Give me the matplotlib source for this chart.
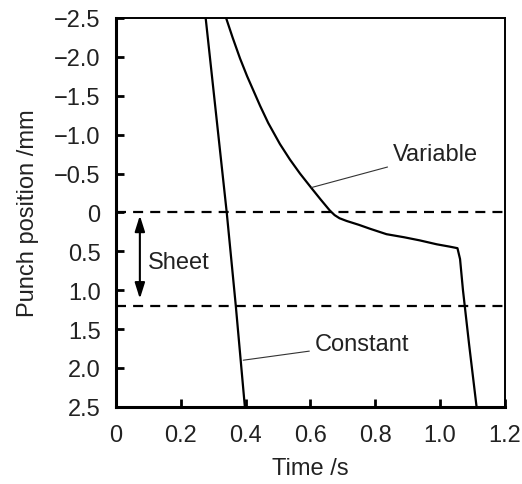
import matplotlib
matplotlib.use('Agg')
import matplotlib.pyplot as plt
from matplotlib import rcParams

rcParams['font.family'] = ['Liberation Sans', 'DejaVu Sans']

# 数据
const_t = [0.277, 0.342, 0.370, 0.398]
const_pos = [-2.5, 0.0, 1.2, 2.5]

var_t = [0.340, 0.360, 0.383, 0.405, 0.425, 0.445, 0.470, 0.506, 0.537,
         0.568, 0.604, 0.632, 0.660, 0.675, 0.690, 0.712, 0.750, 0.784,
         0.835, 0.890, 0.938, 0.990, 1.030, 1.054, 1.062, 1.071, 1.090,
         1.113]
var_pos = [-2.50, -2.25, -1.98, -1.75, -1.56, -1.37, -1.15, -0.88, -0.68,
           -0.50, -0.31, -0.165, -0.025, 0.035, 0.075, 0.11, 0.16, 0.21,
           0.28, 0.32, 0.36, 0.41, 0.44, 0.46, 0.60, 1.0, 1.7,
           2.5]

sheet_top = 0.0
sheet_bottom = 1.2

x_ticks = [0, 0.2, 0.4, 0.6, 0.8, 1.0, 1.2]
x_labels = ['0', '0.2', '0.4', '0.6', '0.8', '1.0', '1.2']
y_ticks = [-2.5, -2.0, -1.5, -1.0, -0.5, 0, 0.5, 1.0, 1.5, 2.0, 2.5]
y_labels = ['\u22122.5', '\u22122.0', '\u22121.5', '\u22121.0', '\u22120.5', '0',
            '0.5', '1.0', '1.5', '2.0', '2.5']

fig = plt.figure(figsize=(5.22, 4.85), dpi=100)
ax = fig.add_axes([0.222, 0.159, 0.745, 0.802])

ax.plot(const_t, const_pos, color='black', lw=1.6)
ax.plot(var_t, var_pos, color='black', lw=1.6, solid_joinstyle='round')

# 板厚范围虚线
for yv in (sheet_top, sheet_bottom):
    ax.axhline(yv, color='black', lw=1.6, dashes=(4.5, 3.2))

# 双向箭头 + 标注
ax.annotate('', xy=(0.074, 0.04), xytext=(0.074, 1.11),
            arrowprops=dict(arrowstyle='<|-|>,head_length=0.95,head_width=0.3',
                            color='black', lw=1.5, shrinkA=0, shrinkB=0))
ax.text(0.10, 0.64, 'Sheet', fontsize=17, va='center', ha='left', color='#222222')

ax.annotate('Variable', xy=(0.604, -0.32), xytext=(0.855, -0.75),
            fontsize=17, va='center', ha='left', color='#222222',
            arrowprops=dict(arrowstyle='-', color='#333333', lw=0.8,
                            shrinkA=2, shrinkB=0))
ax.annotate('Constant', xy=(0.393, 1.90), xytext=(0.614, 1.69),
            fontsize=17, va='center', ha='left', color='#222222',
            arrowprops=dict(arrowstyle='-', color='#333333', lw=0.8,
                            shrinkA=2, shrinkB=0))

ax.set_xlim(0, 1.2)
ax.set_ylim(2.5, -2.5)
ax.set_xticks(x_ticks)
ax.set_xticklabels(x_labels)
ax.set_yticks(y_ticks)
ax.set_yticklabels(y_labels)
ax.tick_params(direction='in', length=6, width=2, labelsize=17, pad=11,
               colors='black', labelcolor='#222222')
ax.tick_params(axis='x', pad=12)

ax.spines['left'].set_linewidth(2.2)
ax.spines['bottom'].set_linewidth(2.2)
ax.spines['top'].set_linewidth(1.4)
ax.spines['right'].set_linewidth(1.4)

ax.set_xlabel('Time /s', fontsize=17, color='#222222', labelpad=8)
ax.set_ylabel('Punch position /mm', fontsize=17, color='#222222', labelpad=11)

plt.savefig('out.png', dpi=100)
plt.close(fig)
